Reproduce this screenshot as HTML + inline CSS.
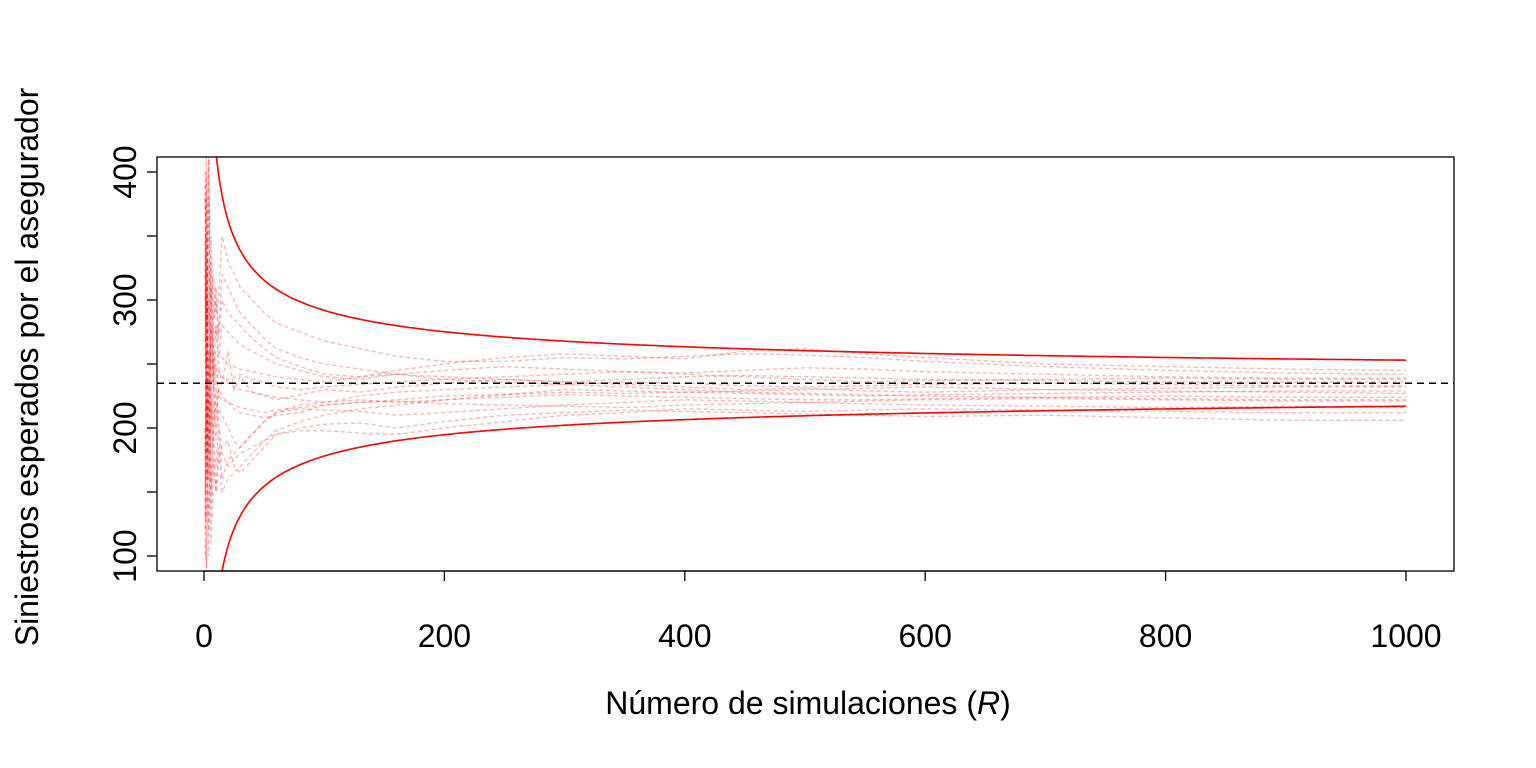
<!DOCTYPE html>
<html><head><meta charset="utf-8"><style>
html,body{margin:0;background:#fff;overflow:hidden;width:1536px;height:768px}
svg{font-family:"Liberation Sans",Arial,sans-serif;display:block}
</style></head><body>
<svg id="chart" width="1536" height="768" viewBox="0 0 1536 768" xmlns="http://www.w3.org/2000/svg">
<defs><clipPath id="clip"><rect x="157" y="157" width="1297" height="414"/></clipPath></defs>
<g id="paths" clip-path="url(#clip)"></g>
<g id="bounds" clip-path="url(#clip)"></g>
<rect x="157" y="157" width="1297" height="414" fill="none" stroke="#000" stroke-width="1.3"/>
<g id="axes"></g>
<text x="808" y="714" text-anchor="middle" font-size="32">Número de simulaciones (<tspan font-style="italic">R</tspan>)</text>
<text transform="translate(38,367) rotate(-90)" text-anchor="middle" font-size="32">Siniestros esperados por el asegurador</text>
</svg>
<script>
const rGrid=[1,2,3,4,5,6,8,10,12,15,20,25,30,40,50,60,80,100,130,160,200,250,300,350,400,450,500,550,600,700,800,900,1000];
const path1=[380,160,300,210,260,330,240,280,250,235,260,230,240,228,225,222,226,230,228,232,235,238,236,234,232,230,231,229,228,230,229,228,227];
const path2=[120,300,180,250,210,150,220,190,215,210,200,190,185,195,205,212,215,214,213,210,212,215,218,220,222,221,220,219,218,217,216,217,216];
const path3=[400,250,350,420,330,300,320,290,300,350,330,320,310,300,290,282,275,268,262,256,252,252,255,254,256,258,257,255,252,248,245,243,242];
const path4=[100,350,150,120,170,220,180,150,175,185,190,170,165,175,185,195,200,203,204,200,205,210,212,214,213,212,211,210,209,210,208,206,206];
const path5=[300,420,280,330,250,200,245,260,255,280,275,270,265,260,255,250,245,240,238,242,245,248,246,244,243,245,247,246,244,242,240,239,239];
const path6=[200,90,230,180,240,280,238,210,230,225,220,215,212,210,208,210,212,218,220,222,225,226,228,227,228,229,230,231,232,230,231,232,232];
const path7=[350,200,320,380,290,260,280,300,270,300,290,285,280,270,262,255,248,242,240,242,240,238,236,238,240,241,240,239,238,237,236,236,236];
const path8=[150,260,170,100,180,230,190,170,200,160,175,180,185,195,205,212,218,220,222,220,222,224,226,225,224,223,222,222,223,224,225,224,224];
const path9=[250,400,260,300,270,230,265,280,260,255,250,248,246,244,242,240,238,236,240,245,250,255,258,256,254,260,262,258,255,250,248,246,245];
const path10=[130,220,160,260,190,140,200,230,205,180,170,175,180,185,190,195,198,198,196,195,200,205,210,212,215,214,213,214,215,214,213,212,212];
const path11=[320,130,300,240,270,310,255,230,245,240,235,232,230,228,226,224,222,220,225,228,230,232,234,236,235,233,232,233,234,235,234,233,233];
const path12=[180,330,200,160,215,260,225,200,230,235,238,240,242,238,236,232,230,232,234,236,238,240,242,244,242,240,238,236,237,238,239,238,238];
const path13=[390,280,340,410,300,350,285,310,275,320,310,300,290,280,270,262,255,250,246,242,238,236,234,232,230,228,227,226,225,224,223,222,222];
const path14=[110,90,140,200,165,110,175,150,185,150,160,165,170,180,190,198,205,210,215,218,222,226,230,229,228,227,226,225,226,227,228,229,229];
const path15=[270,380,250,190,240,300,230,250,225,222,220,218,216,214,212,214,216,218,220,221,219,218,217,216,218,219,220,221,222,223,222,221,221];
const paths=[path1,path2,path3,path4,path5,path6,path7,path8,path9,path10,path11,path12,path13,path14,path15];
const meanValue=235;
const boundConst=569;
const xTicks=[0,200,400,600,800,1000];
const yTicks=[100,150,200,250,300,350,400];
const yLabels=[100,200,300,400];

const NS="http://www.w3.org/2000/svg";
const sx=v=>204+v*1.202;
const sy=v=>556-(v-100)*1.28;
function mk(tag,attrs,parent){const e=document.createElementNS(NS,tag);for(const k in attrs)e.setAttribute(k,attrs[k]);parent.appendChild(e);return e;}
const gP=document.getElementById('paths');
paths.forEach((p,i)=>{
  const d=p.map((v,j)=>(j?'L':'M')+sx(rGrid[j]).toFixed(1)+','+sy(v).toFixed(1)).join('');
  const el=mk('path',{d:d,fill:'none',stroke:'rgba(255,0,0,0.3)','stroke-width':1.3,'stroke-dasharray':'4,3'},gP);
  
  
});
const gB=document.getElementById('bounds');
let up='',lo='';
for(let r=1;r<=1000;r++){
  const h=boundConst/Math.sqrt(r);
  up+=(r>1?'L':'M')+sx(r).toFixed(1)+','+sy(meanValue+h).toFixed(1);
  lo+=(r>1?'L':'M')+sx(r).toFixed(1)+','+sy(meanValue-h).toFixed(1);
}
const ub=mk('path',{d:up,fill:'none',stroke:'#f00','stroke-width':1.6},gB);


const lb=mk('path',{d:lo,fill:'none',stroke:'#f00','stroke-width':1.6},gB);


const ml=mk('line',{x1:157,x2:1454,y1:sy(meanValue),y2:sy(meanValue),stroke:'#000','stroke-width':1.5,'stroke-dasharray':'7,5'},gB);


const gA=document.getElementById('axes');
mk('line',{x1:sx(0),x2:sx(1000),y1:571,y2:571,stroke:'#000','stroke-width':1.3},gA);
xTicks.forEach(t=>{
  const l=mk('line',{x1:sx(t),x2:sx(t),y1:571,y2:581,stroke:'#000','stroke-width':1.3},gA);
  
  
  const tx=mk('text',{x:sx(t),y:647,'text-anchor':'middle','font-size':32},gA);
  tx.textContent=t;
  
  
});
yTicks.forEach(t=>{
  const l=mk('line',{x1:147,x2:157,y1:sy(t),y2:sy(t),stroke:'#000','stroke-width':1.3},gA);
  
  
});
yLabels.forEach(t=>{
  const tx=mk('text',{transform:'translate(136,'+sy(t)+') rotate(-90)','text-anchor':'middle','font-size':32},gA);
  tx.textContent=t;
  
  
});
</script>
</body></html>
